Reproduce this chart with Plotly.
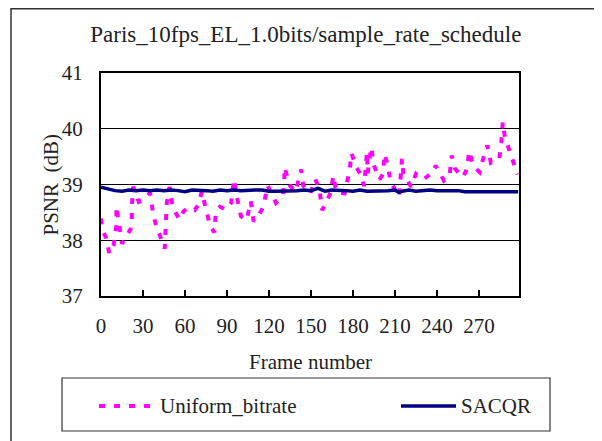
import plotly.graph_objects as go

# ---- data ----
uniform_frames = [0, 1, 3.5, 6, 9, 11, 11, 13, 15, 18, 22, 22, 23, 27, 31, 35, 37, 40, 41,
                  45.5, 46, 47, 49, 51, 56, 59, 62, 67, 70, 72, 75, 78, 81, 82, 85, 89, 93,
                  95, 97, 100, 104, 107, 109, 112, 116, 119, 125, 130, 131, 131, 135, 139,
                  143, 144.5, 149.5, 153, 156, 158, 164, 166, 168, 174, 177.5, 179, 182, 185,
                  188, 190, 190.5, 193, 195, 199, 201.5, 202.5, 204.5, 207, 213, 215, 216,
                  221.5, 225, 227.5, 231, 238, 239, 245, 249, 250.5, 253, 258.5, 261.5, 263,
                  266, 270.5, 274, 276, 278.5, 284.5, 286, 287, 288.5, 293, 297.5]
uniform_psnr = [38.39, 38.18, 38.05, 37.76, 37.91, 38.27, 38.61, 38.27, 37.94, 38.06, 38.24,
                38.60, 38.96, 38.69, 38.73, 38.85, 38.52, 38.18, 38.16, 37.85, 38.31, 38.67,
                38.96, 38.60, 38.37, 38.52, 38.58, 38.54, 38.66, 38.88, 38.55, 38.26, 38.14,
                38.50, 38.60, 38.55, 38.67, 39.10, 38.78, 38.43, 38.36, 38.70, 38.34, 38.42,
                38.60, 38.98, 38.67, 38.81, 39.13, 39.31, 38.98, 38.87, 39.27, 38.98, 38.84,
                39.10, 38.92, 38.54, 38.85, 39.16, 38.87, 38.84, 39.24, 39.56, 39.33, 39.20,
                38.97, 39.58, 39.20, 39.67, 39.34, 39.09, 39.19, 39.55, 39.37, 39.04, 38.78,
                39.46, 39.19, 38.96, 39.19, 39.13, 39.10, 39.25, 39.34, 39.07, 39.16, 39.52,
                39.28, 39.13, 39.28, 39.60, 39.33, 39.22, 39.56, 39.70, 39.39, 39.46, 39.76,
                40.12, 39.85, 39.49, 39.18]

sacqr_frames = [0, 3, 5, 10, 15, 20, 25, 30, 35, 40, 45, 50, 55, 60, 65, 70, 75, 80, 85, 90,
                95, 100, 105, 110, 115, 120, 125, 130, 135, 140, 145, 150, 155, 160, 165, 170,
                175, 180, 185, 190, 195, 200, 205, 210, 213, 215, 220, 225, 230, 235, 240, 245,
                250, 255, 260, 265, 270, 275, 280, 285, 290, 298]
sacqr_psnr = [38.95, 38.93, 38.91, 38.89, 38.88, 38.90, 38.89, 38.90, 38.89, 38.90, 38.89,
              38.90, 38.89, 38.87, 38.90, 38.90, 38.89, 38.88, 38.90, 38.89, 38.90, 38.89,
              38.90, 38.90, 38.90, 38.88, 38.88, 38.88, 38.89, 38.89, 38.90, 38.89, 38.93,
              38.88, 38.90, 38.90, 38.89, 38.88, 38.90, 38.88, 38.88, 38.88, 38.89, 38.90,
              38.86, 38.88, 38.90, 38.88, 38.89, 38.90, 38.89, 38.89, 38.88, 38.89, 38.87,
              38.87, 38.88, 38.87, 38.88, 38.88, 38.88, 38.87]

x_ticks = [0, 30, 60, 90, 120, 150, 180, 210, 240, 270]
y_ticks = [37, 38, 39, 40, 41]

FONT = "Liberation Serif"
TXT = "#222222"

# the page body adds an 8px offset; the figure is sized to fill the rest of the window
W, H = 594, 433
OFF = 8

fig = go.Figure()
fig.add_trace(go.Scatter(x=uniform_frames, y=uniform_psnr, mode="lines", name="Uniform_bitrate",
                         line=dict(color="#FF00FF", width=4, dash="6px,9px")))
fig.add_trace(go.Scatter(x=sacqr_frames, y=sacqr_psnr, mode="lines", name="SACQR",
                         line=dict(color="#000080", width=3.5)))

fig.update_layout(
    width=W, height=H,
    margin=dict(l=101 - OFF, r=W - (519 - OFF), t=73 - OFF, b=H - (296 - OFF)),
    paper_bgcolor="white", plot_bgcolor="white",
    showlegend=False,
    title=dict(text="Paris_10fps_EL_1.0bits/sample_rate_schedule", x=0.49, xref="paper",
               xanchor="center", y=1 - (34 - OFF) / H, yanchor="middle",
               font=dict(family=FONT, size=23, color=TXT)),
    font=dict(family=FONT, color=TXT),
)
fig.update_xaxes(range=[0, 298.6], tickvals=x_ticks, ticktext=[str(v) for v in x_ticks],
                 ticks="inside", ticklen=6, tickwidth=1.5, tickcolor="black",
                 showline=True, linecolor="black", linewidth=2, mirror=True,
                 showgrid=False, zeroline=False, ticklabelstandoff=10,
                 tickfont=dict(family=FONT, size=21, color=TXT))
fig.update_yaxes(range=[37, 41], tickvals=y_ticks, ticks="",
                 showline=True, linecolor="black", linewidth=2, mirror=True,
                 showgrid=True, gridcolor="black", gridwidth=1, zeroline=False,
                 ticklabelstandoff=12,
                 tickfont=dict(family=FONT, size=21, color=TXT))

# helpers: reference pixel -> paper coordinate
px = lambda v: (v - 101) / 418
py = lambda v: (296 - v) / 223

# axis titles
fig.add_annotation(text="Frame number", xref="paper", yref="paper", x=0.5, y=py(362),
                   xanchor="center", yanchor="middle", showarrow=False,
                   font=dict(family=FONT, size=21, color=TXT))
fig.add_annotation(text="PSNR\u2002(dB)", xref="paper", yref="paper", x=px(50),
                   y=0.5, xanchor="center", yanchor="middle", showarrow=False, textangle=-90,
                   font=dict(family=FONT, size=21, color=TXT))

# outer chart border
fig.add_shape(type="rect", xref="paper", yref="paper",
              x0=px(11), x1=px(600), y0=py(460), y1=py(8.8),
              line=dict(color="#333333", width=1.5), layer="below")

# legend box (drawn manually)
fig.add_shape(type="rect", xref="paper", yref="paper", x0=px(62), x1=px(550),
              y0=py(431), y1=py(378), line=dict(color="#333333", width=1.2))
fig.add_shape(type="line", xref="paper", yref="paper", x0=px(99), x1=px(155),
              y0=py(406), y1=py(406), line=dict(color="#FF00FF", width=4, dash="6px,9px"))
fig.add_shape(type="line", xref="paper", yref="paper", x0=px(401), x1=px(456),
              y0=py(406), y1=py(406), line=dict(color="#000080", width=3.5))
fig.add_annotation(text="Uniform_bitrate", xref="paper", yref="paper", x=px(158), y=py(406),
                   xanchor="left", yanchor="middle", showarrow=False,
                   font=dict(family=FONT, size=21, color=TXT))
fig.add_annotation(text="SACQR", xref="paper", yref="paper", x=px(459), y=py(406),
                   xanchor="left", yanchor="middle", showarrow=False,
                   font=dict(family=FONT, size=21, color=TXT))

fig.write_html("out.html")
